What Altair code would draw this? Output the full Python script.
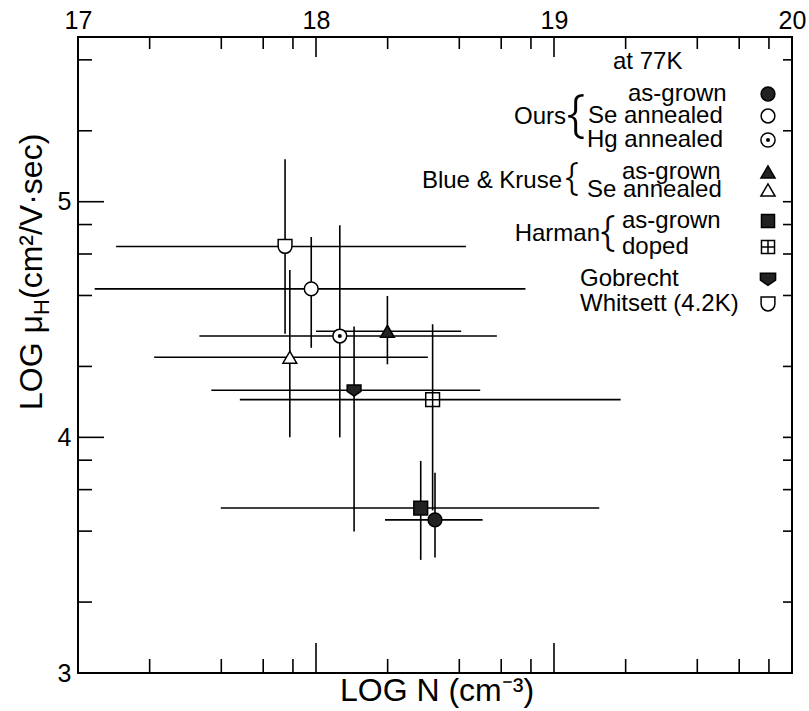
import altair as alt
import pandas as pd
import numpy as np

FONT = "Liberation Sans"

# ---------------- data ----------------
series = ["Ours as-grown", "Ours Se annealed", "Ours Hg annealed",
          "Blue & Kruse as-grown", "Blue & Kruse Se annealed",
          "Harman as-grown", "Harman doped", "Gobrecht", "Whitsett (4.2K)"]
log_n      = [18.50, 17.98, 18.10, 18.30, 17.89, 18.44, 18.49, 18.16, 17.87]
log_n_low  = [18.29, 17.07, 17.51, 18.00, 17.32, 17.60, 17.68, 17.56, 17.16]
log_n_high = [18.70, 18.88, 18.76, 18.61, 18.47, 19.19, 19.28, 18.69, 18.63]
log_mu      = [3.65, 4.63, 4.43, 4.45, 4.34, 3.70, 4.16, 4.20, 4.81]
log_mu_low  = [3.49, 4.38, 4.00, 4.31, 4.00, 3.48, 3.69, 3.60, 4.44]
log_mu_high = [3.85, 4.85, 4.90, 4.60, 4.71, 3.90, 4.48, 4.47, 5.18]

x_tick_labels = [17, 18, 19, 20]
y_tick_labels = [3, 4, 5]
tick_multipliers = [2, 4, 6, 8]
x_decades = [17, 18, 19]
y_decades = [3, 4, 5]
x_major = [18, 19]
y_major = [4, 5]
X_DOMAIN = [17, 20]
Y_DOMAIN = [3, float(np.log10(5e5))]

df = pd.DataFrame({"series": series, "logN": log_n, "logN_lo": log_n_low,
                   "logN_hi": log_n_high, "logMu": log_mu,
                   "logMu_lo": log_mu_low, "logMu_hi": log_mu_high})

x_minor = [d + np.log10(m) for d in x_decades for m in tick_multipliers]
y_minor = [d + np.log10(m) for d in y_decades for m in tick_multipliers
           if d + np.log10(m) < Y_DOMAIN[1]]
xmaj_df = pd.DataFrame({"v": x_major})
xmin_df = pd.DataFrame({"v": x_minor})
ymaj_df = pd.DataFrame({"v": y_major})
ymin_df = pd.DataFrame({"v": y_minor})

# ---------------- styles ----------------
W, H = 714, 636
CUP = "M-1,-1L1,-1L1,0A1,1 0 0,1 -1,0Z"
SHIELD = "M-1,-0.75L1,-0.75L1,0.15L0,0.85L-1,0.15Z"
GRID_SQ = "M-1,-1L1,-1L1,1L-1,1Z M0,-1L0,1 M-1,0L1,0"
shapes = ["circle", "circle", "circle", "triangle-up", "triangle-up",
          "square", GRID_SQ, SHIELD, CUP]
DARK = "#222222"
fills = [DARK, "white", "white", DARK, "white", DARK, "white", DARK, "white"]
sizes = [190, 190, 200, 200, 200, 170, 170, 230, 190]

xscale = alt.Scale(domain=X_DOMAIN, nice=False, zero=False)
yscale = alt.Scale(domain=Y_DOMAIN, nice=False, zero=False)
xaxis = alt.Axis(orient="top", values=x_tick_labels, ticks=False, domain=False,
                 grid=False, labelFontSize=25, labelFont=FONT, labelColor="black",
                 labelPadding=4, title=None, labelFlush=False, labelOverlap=False)
yaxis = alt.Axis(orient="left", values=y_tick_labels, ticks=False, domain=False,
                 grid=False, labelFontSize=25, labelFont=FONT, labelColor="black",
                 labelPadding=7, title=None, labelFlush=False, labelOverlap=False)


def X(field):
    return alt.X(field, type="quantitative", scale=xscale, axis=xaxis)


def Y(field):
    return alt.Y(field, type="quantitative", scale=yscale, axis=yaxis)


base = alt.Chart(df)
hbars = base.mark_rule(color="black", strokeWidth=1.6).encode(
    x=X("logN_lo"), x2="logN_hi", y=Y("logMu"))
vbars = base.mark_rule(color="black", strokeWidth=1.6).encode(
    x=X("logN"), y=Y("logMu_lo"), y2="logMu_hi")
points = base.mark_point(filled=True, stroke="black", strokeWidth=1.5, opacity=1).encode(
    x=X("logN"), y=Y("logMu"),
    shape=alt.Shape("series:N", scale=alt.Scale(domain=series, range=shapes), legend=None),
    fill=alt.Fill("series:N", scale=alt.Scale(domain=series, range=fills), legend=None),
    size=alt.Size("series:N", scale=alt.Scale(domain=series, range=sizes), legend=None))
hg_dot = base.transform_filter(alt.datum.series == "Ours Hg annealed").mark_point(
    filled=True, shape="circle", size=16, color="black", opacity=1).encode(
    x=X("logN"), y=Y("logMu"))


# inward ticks
def xticks(d, length, top):
    if top:
        enc = dict(y=alt.value(0), y2=alt.value(length))
    else:
        enc = dict(y=alt.value(H), y2=alt.value(H - length))
    return alt.Chart(d).mark_rule(color="black", strokeWidth=1.6).encode(x=X("v"), **enc)


def yticks(d, length, left):
    if left:
        enc = dict(x=alt.value(0), x2=alt.value(length))
    else:
        enc = dict(x=alt.value(W), x2=alt.value(W - length))
    return alt.Chart(d).mark_rule(color="black", strokeWidth=1.6).encode(y=Y("v"), **enc)


ticks = [xticks(xmaj_df, 30, False), xticks(xmin_df, 14, False),
         xticks(xmaj_df, 20, True), xticks(xmin_df, 12, True),
         yticks(ymaj_df, 26, True), yticks(ymin_df, 14, True),
         yticks(ymaj_df, 9, False), yticks(ymin_df, 9, False)]

ONE = alt.Data(values=[{"a": 1}])


def txt(s, x, y, size=24, align="left", angle=0, baseline="middle",
        font=FONT, weight="normal"):
    return alt.Chart(ONE).mark_text(
        text=s, fontSize=size, font=font, fontWeight=weight, align=align,
        baseline=baseline, angle=angle, color="black").encode(
        x=alt.value(x), y=alt.value(y))


def brace(x, y, size):
    return txt("{", x, y, size=size, align="center", font="Noto Sans", weight=300)


def mk(i, x, y):
    return alt.Chart(ONE).mark_point(
        shape=shapes[i], filled=True, fill=fills[i], stroke="black",
        strokeWidth=1.5, opacity=1, size=sizes[i]).encode(x=alt.value(x), y=alt.value(y))


# legend (pixel positions inside the plot area)
MX = 690
legend = [
    txt("at 77K", 535, 25),
    txt("as-grown", 550, 57), mk(0, MX, 57),
    txt("Se annealed", 510, 79), mk(1, MX, 79),
    txt("Hg annealed", 509, 103), mk(2, MX, 103),
    alt.Chart(ONE).mark_point(filled=True, shape="circle", size=16, color="black",
                              opacity=1).encode(x=alt.value(MX), y=alt.value(103)),
    brace(498, 78, 52), txt("Ours", 488, 80, align="right"),
    txt("as-grown", 544, 135), mk(3, MX, 135),
    txt("Se annealed", 509, 153), mk(4, MX, 153),
    brace(494, 142, 38), txt("Blue & Kruse", 484, 144, align="right"),
    txt("as-grown", 544, 184), mk(5, MX, 184),
    txt("doped", 544, 210), mk(6, MX, 210),
    brace(530, 195, 42), txt("Harman", 522, 197, align="right"),
    txt("Gobrecht", 502, 242), mk(7, MX, 242),
    txt("Whitsett (4.2K)", 502, 267), mk(8, MX, 267),
]

# axis titles
titles = [
    txt("LOG N (cm⁻³)", 359, 664, size=32, align="center", baseline="alphabetic"),
    txt("LOG μ", -36, 373, size=32, angle=270, baseline="alphabetic"),
    txt("H", -29, 278, size=22, angle=270, baseline="alphabetic"),
    txt(" (cm²/V·sec)", -36, 262, size=32, angle=270, baseline="alphabetic"),
]

chart = alt.layer(hbars, vbars, *ticks, points, hg_dot, *legend, *titles).properties(
    width=W, height=H,
    padding={"left": 78, "top": 37, "right": 17, "bottom": 38},
    autosize=alt.AutoSizeParams(type="none"),
    background="white",
).configure_view(stroke="black", strokeWidth=2)

chart.save("out.html", embed_options={"renderer": "svg", "actions": False})
